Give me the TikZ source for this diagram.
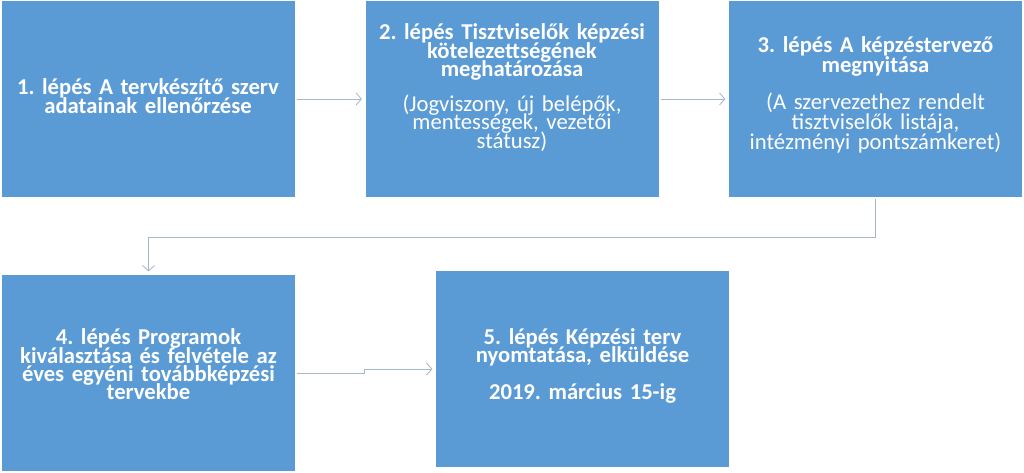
\documentclass[tikz,border=0pt]{standalone}
\usepackage{fontspec}
\setmainfont{Carlito}
\usepackage{xcolor}
\usepackage{tikz}
\usetikzlibrary{arrows.meta,positioning}
\definecolor{stepblue}{HTML}{5B9BD5}
\definecolor{flowgrey}{HTML}{A7B6C8}
% #1 = line pitch
\newcommand\stepfont[1]{\fontsize{17}{#1}\selectfont\bfseries\frenchspacing\lineskiplimit=-20pt\relax}
\tikzset{
  stepbox/.style={fill=stepblue, minimum width=219.75pt, minimum height=147pt,
    inner sep=0pt, text=white, text width=215pt, align=center, font=\stepfont{14.25pt}},
  flow/.style={draw=flowgrey, line width=0.6pt,
    -{Straight Barb[length=4pt,width=9pt]}, shorten <=1.5pt, shorten >=2.5pt}
}
\begin{document}
\begin{tikzpicture}[x=0.75pt,y=-0.75pt]
\useasboundingbox[fill=white] (0,0) rectangle (1024,473);
% upper row
\node[stepbox, text height=70pt, text depth=77pt] (s1) at (148,99)
    {1. lépés A tervkészítő szerv\\adatainak ellenőrzése};
\node[stepbox, text height=29.25pt, text depth=117.75pt, font=\stepfont{13.75pt}] (s2) at (512,99)
    {2. lépés Tisztviselők képzési\\kötelezettségének\\meghatározása\\[12.5pt]
     \mdseries(Jogviszony, új belépők,\\mentességek, vezetői\\státusz)};
\node[stepbox, text height=38.5pt, text depth=108.5pt, font=\stepfont{15.25pt}] (s3) at (875.5,99)
    {3. lépés A képzéstervező\\megnyitása\\[12.2pt]
     \mdseries(A szervezethez rendelt\\tisztviselők listája,\\intézményi pontszámkeret)};
% lower row
\node[stepbox, text height=52.5pt, text depth=94.5pt, font=\stepfont{13.75pt}] (s4) at (148.5,373)
    {4. lépés Programok\\kiválasztása és felvétele az\\éves egyéni továbbképzési\\tervekbe};
\node[stepbox, text height=55.5pt, text depth=91.5pt, font=\stepfont{13.5pt}] (s5) at (582.5,369)
    {5. lépés Képzési terv\\nyomtatása, elküldése\\[14pt]2019. március 15-ig};
\coordinate (turn) at (875.5,237);
\draw[flow] (s1) -- (s2);
\draw[flow] (s2) -- (s3);
\draw[flow] (s3.south) -- (turn) -| (s4.north);
\draw[flow] (s4.east) -- ++(69,0) |- (s5.west);
\end{tikzpicture}
\end{document}
